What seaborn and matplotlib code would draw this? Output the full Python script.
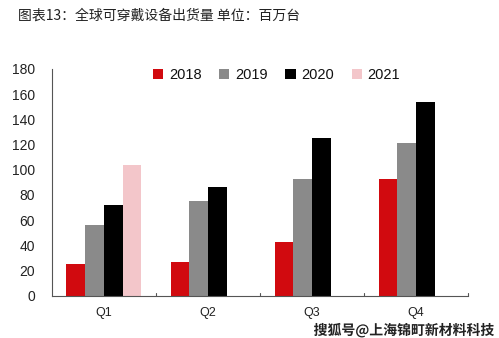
import matplotlib
matplotlib.use("Agg")
import matplotlib.pyplot as plt
import matplotlib.patheffects as pe
import seaborn as sns
import pandas as pd
import numpy as np

quarters = ["Q1", "Q2", "Q3", "Q4"]
years = ["2018", "2019", "2020", "2021"]
v2018 = [25, 27, 43, 92.5]
v2019 = [56, 75, 92.5, 121]
v2020 = [72, 86, 125, 153.5]
v2021 = [104, np.nan, np.nan, np.nan]
yticks = [0, 20, 40, 60, 80, 100, 120, 140, 160, 180]
title = "图表13：全球可穿戴设备出货量 单位：百万台"
watermark = "搜狐号@上海锦町新材料科技"

colors = ["#D10A0F", "#8A8A8A", "#000000", "#F3C6CA"]

rows = []
for yr, vals in zip(years, [v2018, v2019, v2020, v2021]):
    for q, v in zip(quarters, vals):
        rows.append({"quarter": q, "year": yr, "value": v})
df = pd.DataFrame(rows)

sns.set_theme(style="white")
plt.rcParams['font.family'] = ['Noto Sans CJK SC', 'DejaVu Sans']

fig = plt.figure(figsize=(4.99, 3.38), dpi=100)
ax = fig.add_axes([0.104, 0.125, 0.834, 0.671])

sns.barplot(data=df, x="quarter", y="value", hue="year", hue_order=years,
            order=quarters, palette=colors, width=0.72, saturation=1,
            ax=ax, errorbar=None, edgecolor="none", linewidth=0)

ax.set_ylim(0, 180)
ax.set_xlim(-0.5, 3.5)
ax.set_yticks(yticks)
ax.set_yticklabels([str(t) for t in yticks], fontsize=10, color="#222222",
                   family=['Liberation Sans', 'DejaVu Sans'])
ax.set_xticks([0, 1, 2, 3])
ax.set_xticklabels(quarters, fontsize=9, color="#222222",
                   family=['Liberation Sans', 'DejaVu Sans'])
ax.tick_params(axis="x", length=0, pad=8)
ax.tick_params(axis="y", length=4, width=0.8, color="#555555", direction="out", pad=8)
# category boundary ticks
for xb in [0.5, 1.5, 2.5, 3.5]:
    ax.plot([xb, xb], [0, 1.8], color="#555555", lw=0.8, clip_on=False)

for s in ["top", "right"]:
    ax.spines[s].set_visible(False)
ax.spines["left"].set_color("#555555")
ax.spines["bottom"].set_color("#555555")
ax.spines["left"].set_linewidth(0.8)
ax.spines["bottom"].set_linewidth(0.8)
ax.set_xlabel("")
ax.set_ylabel("")

leg = ax.legend(loc="center", bbox_to_anchor=(0.54, 0.973), ncol=4,
                frameon=False, fontsize=10.5, handlelength=0.7, handleheight=0.7,
                handletextpad=0.4, columnspacing=1.2)
for t in leg.get_texts():
    t.set_family(['Liberation Sans', 'DejaVu Sans'])
    t.set_color("#111111")

fig.text(0.036, 0.955, title, fontsize=10, color="#222222", ha="left", va="center")
fig.text(0.99, 0.022, watermark, fontsize=10, color="#222222", ha="right", va="center",
         fontweight="bold",
         path_effects=[pe.withStroke(linewidth=2, foreground="white")])

fig.savefig("out.png", dpi=100, facecolor="white")
